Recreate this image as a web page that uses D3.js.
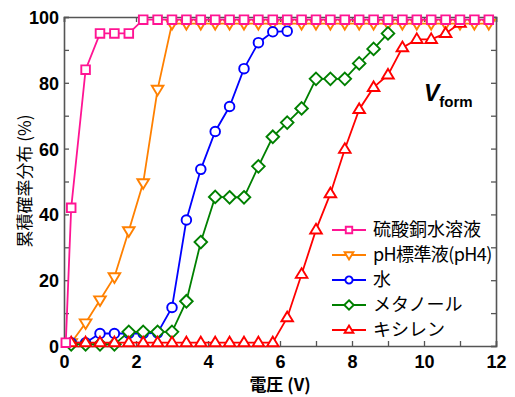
<!DOCTYPE html>
<html>
<head>
<meta charset="utf-8">
<script src="https://cdn.jsdelivr.net/npm/d3@7"></script>
<style>
    body { margin: 0; background: #fff; }
    .tick text { font-family: "Liberation Sans", Arial, sans-serif; font-weight: bold; font-size: 18px; fill: #000; }
</style>
</head>
<body>
<div id="js_chart"></div>
<script>

// voltage steps (V)
const xs = [0.2, 0.6, 1.0, 1.4, 1.8, 2.2, 2.6, 3.0, 3.4, 3.8, 4.2, 4.6, 5.0, 5.4, 5.8, 6.2,
            6.6, 7.0, 7.4, 7.8, 8.2, 8.6, 9.0, 9.4, 9.8, 10.2, 10.6, 11.0, 11.4, 11.8];

// cumulative probability (%) per liquid, aligned to xs
const copperX = [0.05].concat(xs);
const copperY = [1, 42, 84, 95, 95, 95, 99.2, 99.2, 99.2, 99.2, 99.2, 99.2, 99.2, 99.2, 99.2, 99.2, 99.2,
                 99.2, 99.2, 99.2, 99.2, 99.2, 99.2, 99.2, 99.2, 99.2, 99.2, 99.2, 99.2, 99.2, 99.2];
const bufferY = [1, 7, 14, 21, 35, 49.6, 78, 98, 98, 98, 98, 98, 98, 98, 98, 98,
                 98, 98, 98, 98, 98, 98, 98, 98, 98, 98, 98, 98, 98, 98];
const waterY  = [1, 1, 3.8, 3.8, 3.8, 3.8, 4, 11.7, 38.3, 53.7, 65.2, 72.8, 84.3, 92.2, 95.5, 95.7];
const methY   = [0.5, 0.5, 0.5, 0.5, 4.3, 4.3, 4.3, 4.3, 13.6, 31.6, 45.3, 45.2, 45.2, 54.6, 63.6, 67.9,
                 72.2, 81.2, 81.2, 81.2, 85.9, 90.3, 95.0];
const xyleneY = [1, 1, 1, 1, 1, 1, 1, 1, 1, 1, 1, 1, 1, 1, 1, 8.6,
                 21.8, 35.3, 46.3, 59.8, 71.9, 78.6, 82.4, 90.7, 93.2, 93.2, 95.0, 98.1];

const labels = ["硫酸銅水溶液", "pH標準液(pH4)", "水", "メタノール", "キシレン"];
const colors = ["#ff1493", "#ff8000", "#0000ff", "#008000", "#ff0000"];
const shapes = ["square", "triDown", "circle", "diamond", "triUp"];

const xTicks = [0, 2, 4, 6, 8, 10, 12];
const yTicks = [0, 20, 40, 60, 80, 100];

function zip(xv, yv) {
    return yv.map(function (v, i) { return {x: xv[i], y: v}; });
}

let seriesData = [
    {name: labels[0], color: colors[0], shape: shapes[0], pts: zip(copperX, copperY)},
    {name: labels[1], color: colors[1], shape: shapes[1], pts: zip(xs, bufferY)},
    {name: labels[2], color: colors[2], shape: shapes[2], pts: zip(xs, waterY)},
    {name: labels[3], color: colors[3], shape: shapes[3], pts: zip(xs, methY)},
    {name: labels[4], color: colors[4], shape: shapes[4], pts: zip(xs, xyleneY)}
];

createPlot(seriesData);

function createPlot(seriesData) {

    // ******************************************************
    // Settings
    // ******************************************************
    let margin = {top: 17, right: 19, bottom: 51, left: 64},
        width = 515 - margin.left - margin.right,
        height = 397 - margin.top - margin.bottom;

    let x = d3.scaleLinear().domain([0, 12]).range([0, width]);
    let y = d3.scaleLinear().domain([0, 100]).range([height, 0]);

    const axisColor = "#555";

    let svg = d3.select("#js_chart")
        .append("svg")
        .attr("width", 515)
        .attr("height", 397)
        .append("g")
        .attr("transform", "translate(" + margin.left + "," + margin.top + ")");

    // ******************************************************
    // Axes (ticks inside the frame)
    // ******************************************************
    let gx = svg.append("g")
        .attr("transform", "translate(0," + height + ")")
        .call(d3.axisBottom(x).tickValues(d3.range(0, 13, 1)).tickSize(-5).tickPadding(9)
            .tickFormat(function (d) { return xTicks.indexOf(d) >= 0 ? d : ""; }));

    let gy = svg.append("g")
        .call(d3.axisLeft(y).tickValues(d3.range(0, 101, 10)).tickSize(-5).tickPadding(5)
            .tickFormat(function (d) { return yTicks.indexOf(d) >= 0 ? d : ""; }));

    let gt = svg.append("g")
        .call(d3.axisTop(x).tickValues(xTicks).tickSize(-5).tickFormat(""));

    let gr = svg.append("g")
        .attr("transform", "translate(" + width + ",0)")
        .call(d3.axisRight(y).tickValues(d3.range(0, 101, 10)).tickSize(-5).tickFormat(""));

    [gx, gy, gt, gr].forEach(function (g) {
        g.select(".domain").attr("stroke", axisColor).attr("stroke-width", 1.6);
        g.selectAll(".tick line").attr("stroke", axisColor).attr("stroke-width", 1.3);
    });
    gy.selectAll(".tick text").attr("dy", "0.36em");

    // ******************************************************
    // Series
    // ******************************************************
    const line = d3.line()
        .x(function (d) { return x(d.x); })
        .y(function (d) { return y(d.y); });

    // draw order: buffer, water, methanol, xylene, copper sulfate on top
    const order = [1, 2, 3, 4, 0];
    order.forEach(function (i) {
        let s = seriesData[i];
        let g = svg.append("g");
        g.append("path")
            .datum(s.pts)
            .attr("fill", "none")
            .attr("stroke", s.color)
            .attr("stroke-width", 1.8)
            .attr("d", line);
        g.selectAll("path.mk")
            .data(s.pts)
            .enter()
            .append("path")
            .attr("class", "mk")
            .attr("transform", function (d) { return "translate(" + x(d.x) + "," + y(d.y) + ")"; })
            .attr("d", markerPath(s.shape))
            .attr("fill", "#fff")
            .attr("stroke", s.color)
            .attr("stroke-width", 1.9);
    });

    // ******************************************************
    // Legend
    // ******************************************************
    let legend = svg.append("g").attr("transform", "translate(" + (332 - margin.left) + "," + (230 - margin.top) + ")");
    seriesData.forEach(function (s, i) {
        let row = legend.append("g").attr("transform", "translate(0," + (i * 25) + ")");
        row.append("line")
            .attr("x1", 0).attr("x2", 34).attr("y1", 0).attr("y2", 0)
            .attr("stroke", s.color).attr("stroke-width", 1.8);
        row.append("path")
            .attr("transform", "translate(17,0)")
            .attr("d", markerPath(s.shape, 0.75))
            .attr("fill", "#fff")
            .attr("stroke", s.color)
            .attr("stroke-width", 1.9);
        row.append("text")
            .attr("x", 41)
            .attr("y", 0)
            .attr("dy", "0.36em")
            .style("font-family", "'Noto Sans CJK JP', sans-serif")
            .style("font-size", "18px")
            .style("letter-spacing", i === 1 ? "-0.6px" : "0px")
            .text(s.name);
    });

    // ******************************************************
    // Labels
    // ******************************************************
    let vt = svg.append("text")
        .attr("x", 424 - margin.left)
        .attr("y", 101 - margin.top)
        .style("font-family", "'Liberation Sans', Arial, sans-serif")
        .style("font-weight", "bold");
    vt.append("tspan").style("font-style", "italic").style("font-size", "23px").text("V");
    vt.append("tspan").attr("dy", 6).style("font-size", "15px").text("form");

    svg.append("text")
        .attr("x", width / 2)
        .attr("y", 391 - margin.top)
        .attr("text-anchor", "middle")
        .style("font-family", "'Noto Sans CJK JP', sans-serif")
        .style("font-weight", "bold")
        .style("font-size", "17px")
        .text("電圧 (V)");

    svg.append("text")
        .attr("transform", "translate(" + (31 - margin.left) + "," + (181 - margin.top) + ") rotate(-90)")
        .attr("text-anchor", "middle")
        .style("font-family", "'Noto Sans CJK JP', sans-serif")
        .style("font-size", "17px")
        .text("累積確率分布 (%)");

    // ******************************************************
    // Internal functions
    // ******************************************************
    function markerPath(shape, k) {
        k = k || 1;
        let r = 4.3 * k;
        if (shape === "square")
            return "M" + (-r) + "," + (-r) + "H" + r + "V" + r + "H" + (-r) + "Z";
        if (shape === "circle")
            return d3.arc()({innerRadius: 0, outerRadius: 4.8 * k, startAngle: 0, endAngle: 2 * Math.PI});
        if (shape === "diamond") {
            let d = 6.3 * k;
            return "M0," + (-d) + "L" + d + ",0L0," + d + "L" + (-d) + ",0Z";
        }
        let h = 6 * k, w = 5.8 * k;
        if (shape === "triUp")
            return "M0," + (-h) + "L" + w + "," + (h * 0.6) + "L" + (-w) + "," + (h * 0.6) + "Z";
        return "M0," + h + "L" + w + "," + (-h * 0.6) + "L" + (-w) + "," + (-h * 0.6) + "Z";
    }
}
</script>
</body>
</html>
